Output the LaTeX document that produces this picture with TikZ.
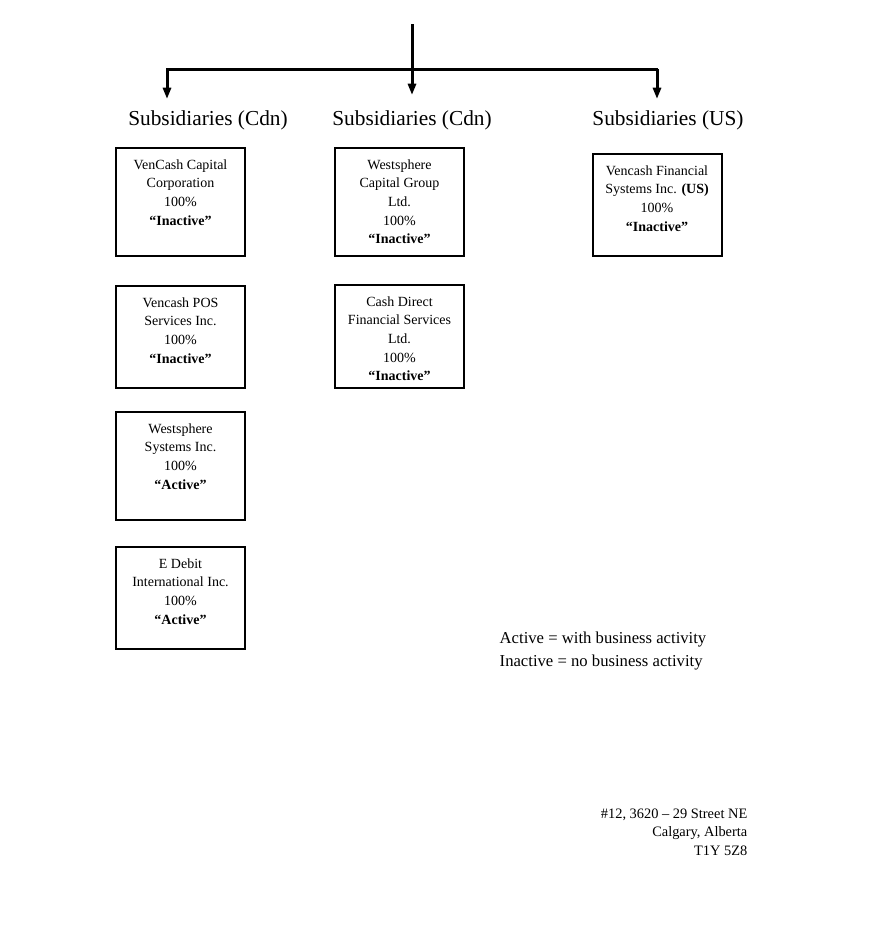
\documentclass[tikz,border=0pt]{standalone}
\usepackage{fontspec}
\setmainfont{Liberation Serif}
\usetikzlibrary{arrows.meta,positioning}

% text of one company box, set from the top of the box
\newcommand{\entitytext}[2]{\parbox[c][#1][t]{96.75pt}{\centering\vspace*{8.5pt}#2}}
\newcommand{\state}[1]{\textbf{``#1''}}

\begin{document}
\begin{tikzpicture}[x=0.75pt,y=-0.75pt,
    link/.style={line width=2.25pt},
    tip/.style={link,-{Triangle[length=8.5pt,width=6pt]}},
    heading/.style={font=\fontsize{16}{19}\selectfont},
    entity/.style={draw,line width=1.5pt,inner sep=0pt,anchor=north,
        font=\fontsize{10.5}{14}\selectfont}]
\useasboundingbox (0,0) rectangle (876,936);

% parent line and the bus to the three groups
\coordinate (top) at (412,24);
\coordinate (busL) at (166,69);
\coordinate (busR) at (658,69);
\coordinate (tipL) at (167,99);
\coordinate (tipM) at (412,95);
\coordinate (tipR) at (657,99);
\draw[link] (busL) -- (busR);
\draw[tip] (top) -- (tipM);
\draw[tip] (busL -| tipL) -- (tipL);
\draw[tip] (busR -| tipR) -- (tipR);

% group headings
\node[heading] (cdnA) at (208,120) {Subsidiaries (Cdn)};
\node[heading] (cdnB) at (412,120) {Subsidiaries (Cdn)};
\node[heading] (us) at (668,120) {Subsidiaries (US)};

% first Canadian column
\node[entity] (vencap) at (180.5,147) {\entitytext{81pt}{VenCash Capital\\Corporation\\100\%\\\state{Inactive}}};
\node[entity] (venpos) at (180.5,285) {\entitytext{76.5pt}{Vencash POS\\Services Inc.\\100\%\\\state{Inactive}}};
\node[entity] (wssys) at (180.5,411) {\entitytext{81pt}{Westsphere\\Systems Inc.\\100\%\\\state{Active}}};
\node[entity] (edebit) at (180.5,546) {\entitytext{76.5pt}{E Debit\\International Inc.\\100\%\\\state{Active}}};

% second Canadian column
\node[entity] (wscap) at (399.5,147) {\entitytext{81pt}{Westsphere\\Capital Group\\Ltd.\\100\%\\\state{Inactive}}};
\node[entity] (cashdir) at (399.5,284) {\entitytext{77.25pt}{Cash Direct\\Financial Services\\Ltd.\\100\%\\\state{Inactive}}};

% US column
\node[entity] (venfin) at (657,153) {\entitytext{76.5pt}{Vencash Financial\\Systems Inc. \textbf{(US)}\\100\%\\\state{Inactive}}};

% legend and address
\node[anchor=west,align=left,font=\fontsize{12.5}{17.25}\selectfont] (legend) at (495,651.5)
    {Active = with business activity\\Inactive = no business activity};
\node[anchor=east,align=right,font=\fontsize{10.8}{13.9}\selectfont] (address) at (752,832)
    {\#12, 3620 -- 29 Street NE\\Calgary, Alberta\\T1Y 5Z8};
\end{tikzpicture}
\end{document}
